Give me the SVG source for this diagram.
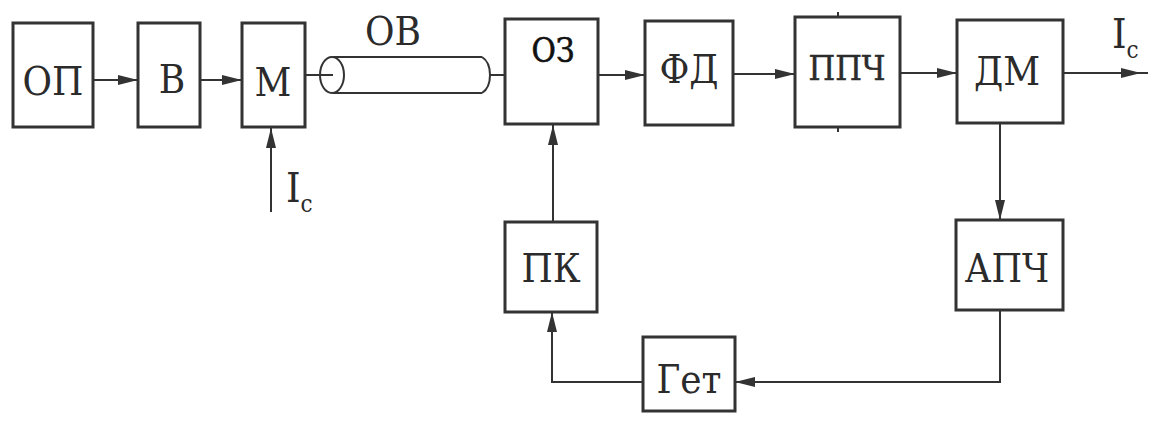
<svg xmlns="http://www.w3.org/2000/svg" width="1153" height="423" viewBox="0 0 1153 423" font-family="DejaVu Serif Condensed, DejaVu Serif, serif">
<style>
.box{fill:#fff;stroke:#333;stroke-width:3}
.lbl{fill:#2b2b2b;text-anchor:middle}
.ln{fill:none;stroke:#333;stroke-width:2}
.arr{fill:none;stroke:#333;stroke-width:2;marker-end:url(#ah)}
</style>
<defs>
<marker id="ah" viewBox="0 0 20 10" refX="20" refY="5" markerWidth="20" markerHeight="10" markerUnits="userSpaceOnUse" orient="auto">
<path d="M0,0 L20,5 L0,10 z" fill="#333"/>
</marker>
</defs>
<rect width="1153" height="423" fill="#fff"/>
<g id="connectors">
<line class="arr" x1="93" y1="80" x2="138" y2="80"/>
<line class="arr" x1="200" y1="80" x2="242" y2="80"/>
<line class="arr" x1="271" y1="212" x2="271" y2="128"/>
<line class="ln" x1="305" y1="75" x2="333" y2="75"/>
<line class="ln" x1="490" y1="75" x2="577" y2="75"/>
<line class="arr" x1="577" y1="75" x2="645" y2="75"/>
<path class="ln" d="M577,75 C562,78 553,88 553,104 L553,124"/>
<line class="arr" x1="553" y1="222" x2="553" y2="125"/>
<line class="arr" x1="733" y1="74" x2="795" y2="74"/>
<line class="arr" x1="900" y1="73" x2="957" y2="73"/>
<line class="arr" x1="1063" y1="73" x2="1141" y2="73"/>
<line class="ln" x1="1140" y1="73" x2="1148" y2="73"/>
<line class="arr" x1="1000" y1="123" x2="1000" y2="220"/>
<polyline class="arr" points="1000,310 1000,382 735,382"/>
<polyline class="arr" points="643,382 552,382 552,312"/>
</g>
<g id="OP"><rect class="box" x="13" y="23" width="80" height="104"/><text class="lbl" x="53" y="95" font-size="40">ОП</text></g>
<g id="V"><rect class="box" x="138" y="23" width="62" height="104"/><text class="lbl" x="172" y="93" font-size="40">В</text></g>
<g id="M"><rect class="box" x="242" y="23" width="63" height="104"/><text class="lbl" x="273" y="96" font-size="40">М</text></g>
<g id="Ic1"><text fill="#2b2b2b" x="286" y="202" font-size="41">I<tspan font-size="24" dy="10">c</tspan></text></g>
<g id="OV">
<line class="ln" x1="333" y1="57" x2="482" y2="57"/>
<line class="ln" x1="333" y1="93" x2="482" y2="93"/>
<path class="ln" d="M482,57 Q490,62 490,75 Q490,88 482,93"/>
<ellipse class="ln" cx="332" cy="75" rx="12" ry="18"/>
<text class="lbl" x="393" y="45" font-size="40">ОВ</text>
</g>
<g id="OZ"><rect class="box" x="505" y="19" width="93" height="105"/><text class="lbl" x="553" y="62" font-size="33" stroke="#111" stroke-width="0.6" style="fill:#111">ОЗ</text></g>
<g id="FD"><rect class="box" x="645" y="21" width="88" height="104"/><text class="lbl" x="689" y="83" font-size="40">ФД</text></g>
<g id="PPCH"><rect class="box" x="795" y="17" width="105" height="110"/>
<line class="ln" x1="838" y1="12" x2="838" y2="17"/><line class="ln" x1="838" y1="127" x2="838" y2="132"/>
<text class="lbl" x="847" y="80" font-size="34" stroke="#2b2b2b" stroke-width="0.5">ППЧ</text></g>
<g id="DM"><rect class="box" x="957" y="20" width="106" height="103"/><text class="lbl" x="1007" y="85" font-size="40">ДМ</text></g>
<g id="Ic2"><text fill="#2b2b2b" x="1112" y="48" font-size="41">I<tspan font-size="24" dy="10">c</tspan></text></g>
<g id="PK"><rect class="box" x="505" y="222" width="92" height="90"/><text class="lbl" x="551" y="282" font-size="40">ПК</text></g>
<g id="APCH"><rect class="box" x="956" y="220" width="107" height="90"/><text class="lbl" x="1007" y="282" font-size="39">АПЧ</text></g>
<g id="Get"><rect class="box" x="643" y="337" width="92" height="74"/><text class="lbl" x="689" y="393" font-size="40">Гет</text></g>
</svg>
